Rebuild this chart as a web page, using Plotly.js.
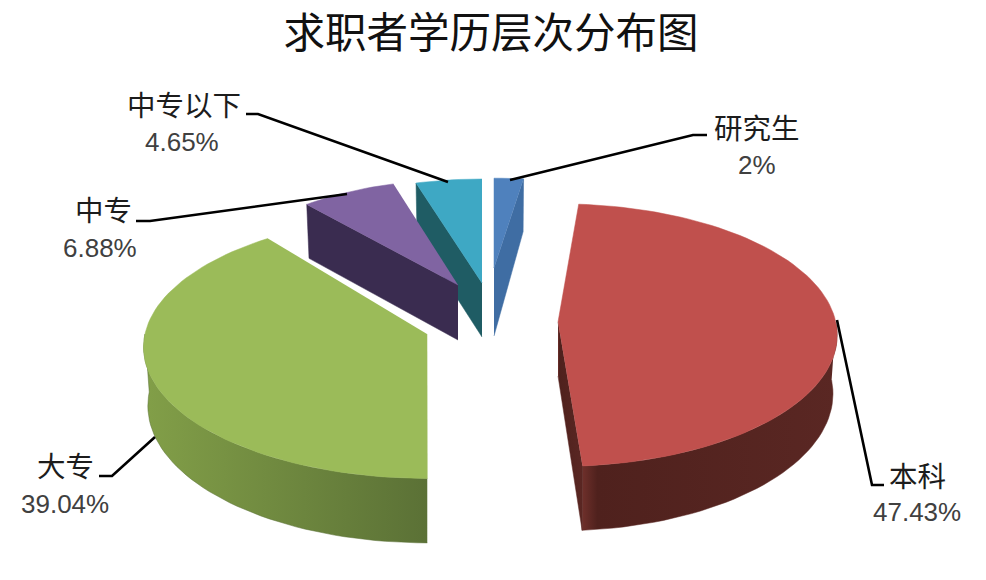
<!DOCTYPE html>
<html><head><meta charset="utf-8">
<script src="https://cdn.plot.ly/plotly-3.0.1.min.js"></script>
<style>html,body{margin:0;padding:0;background:#fff}#c{width:986px;height:580px}</style>
</head><body><div id="c"></div>
<script>
const titleText = '求职者学历层次分布图';
const categories = ['研究生','本科','大专','中专','中专以下'];
const shares = [2, 47.43, 39.04, 6.88, 4.65];
const shareLabels = ['2%','47.43%','39.04%','6.88%','4.65%'];

const topColors = ['#4f81bd','#c0504d','#9bbb59','#8064a2','#3ea8c4'];
const wallColors = [
  [[0,'#3f6da3'],[1,'#3f6da3']],
  [[0,'#6f302b'],[0.06,'#4f211d'],[1,'#5a2723']],
  [[0,'#829f48'],[1,'#5b7136']],
  [[0,'#3a2c50'],[1,'#3a2c50']],
  [[0,'#1f5c64'],[1,'#1f5c64']]
];
// placement of each exploded wedge on the page
const wedge = [
  {cx:494, cy:268, sx:0.92, sy:0.76, rot:0,   rotEnd:0,   apexDepth:68, outer:false, radial:'end'},
  {cx:558, cy:322, sx:0.985,sy:1.0,  rot:-2.5,rotEnd:-2.5,apexDepth:54, outer:true,  radial:'end'},
  {cx:427, cy:334, sx:1.0,  sy:1.0,  rot:2,   rotEnd:4,   apexDepth:54, outer:true,  radial:null},
  {cx:458, cy:285, sx:0.87, sy:0.89, rot:0,   rotEnd:0,   apexDepth:55, outer:false, radial:'start'},
  {cx:482, cy:283, sx:0.89, sy:0.88, rot:0,   rotEnd:0,   apexDepth:54, outer:false, radial:'start'}
];
const RX=282, RY=130, K=0.1, DEPTH=58, BOTTOM_X=0.985;

function rim(w,deg,down){
  const a=deg*Math.PI/180, u=Math.sin(a), v=Math.cos(a), s=1/(1+K*v);
  let x=RX*w.sx*u*s, y=-RY*w.sy*v*s;
  if(down){x*=BOTTOM_X; y+=DEPTH*s;}
  return [w.cx+x, w.cy+y];
}
function arc(w,a0,a1,down){
  const pts=[], n=Math.max(2,Math.ceil(Math.abs(a1-a0)/2));
  for(let i=0;i<=n;i++) pts.push(rim(w,a0+(a1-a0)*i/n,down));
  return pts;
}
function poly(pts,name,fill,grad){
  const t={type:'scatter',mode:'lines',name:name,x:pts.map(p=>p[0]),y:pts.map(p=>p[1]),
    fill:'toself',line:{width:0.5,color:fill||'rgba(0,0,0,0)'},hoverinfo:'name',showlegend:false};
  if(grad) {t.fillgradient={type:'horizontal',colorscale:grad}; t.line.color=grad[grad.length-1][1];}
  else t.fillcolor=fill;
  return t;
}
// cumulative angles clockwise from the top
const spans=[]; let acc=0;
const total=shares.reduce((a,b)=>a+b,0);
shares.forEach(v=>{const d=v/total*360; spans.push([acc,acc+d]); acc+=d;});

const traces=[];
[4,3,0,1,2].forEach(i=>{
  const w=wedge[i], a0=spans[i][0]+w.rot-(i>=3?360:0), a1=spans[i][1]+w.rotEnd-(i>=3?360:0);
  const name=categories[i]+' '+shareLabels[i];
  if(w.outer){
    const from=i===1?90:a0, to=i===1?a1:270;
    const top=arc(w,from,to,false), bot=arc(w,from,to,true).reverse();
    traces.push(poly(top.concat(bot),name,null,wallColors[i]));
  }
  if(w.radial){
    const ang=w.radial==='start'?a0:a1;
    traces.push(poly([[w.cx,w.cy],rim(w,ang,false),rim(w,ang,true),[w.cx,w.cy+w.apexDepth]],name,null,wallColors[i]));
  }
  traces.push(poly([[w.cx,w.cy]].concat(arc(w,a0,a1,false)),name,topColors[i]));
});

const leaderX=[[510,693,707],[837,872,884],[155,112,99],[347,150,136],[448,258,246]];
const leaderY=[[180,135,135],[320,485,485],[437,476,476],[194,221,221],[182,114,114]];
leaderX.forEach((xs,i)=>traces.push({type:'scatter',mode:'lines',x:xs,y:leaderY[i],
  line:{color:'#000',width:2.6},hoverinfo:'skip',showlegend:false}));

const nameX=[757,917,65,103,184], nameY=[126,474,464,208,103];
const valueX=[757,917,65,100,182], valueY=[165,512,504,248,142];
const annotations=[];
categories.forEach((c,i)=>{
  annotations.push({x:nameX[i],y:nameY[i],xref:'x',yref:'y',text:c,showarrow:false,
    font:{family:'"Noto Sans CJK SC",sans-serif',size:28.5,color:'#1c1c1c'}});
  annotations.push({x:valueX[i],y:valueY[i],xref:'x',yref:'y',text:shareLabels[i],showarrow:false,
    font:{family:'"Liberation Sans",Arial,sans-serif',size:26,color:'#404040'}});
});

const layout={width:986,height:580,margin:{l:0,r:0,t:0,b:0},showlegend:false,
  paper_bgcolor:'#fff',plot_bgcolor:'#fff',
  title:{text:titleText,x:0.498,xanchor:'center',y:0.943,yanchor:'middle',
    font:{family:'"Noto Sans CJK SC",sans-serif',size:41.5,color:'#111'}},
  xaxis:{range:[0,986],visible:false,fixedrange:true},
  yaxis:{range:[580,0],visible:false,fixedrange:true},
  annotations:annotations};
Plotly.newPlot('c',traces,layout,{displayModeBar:false,responsive:false});
</script></body></html>
